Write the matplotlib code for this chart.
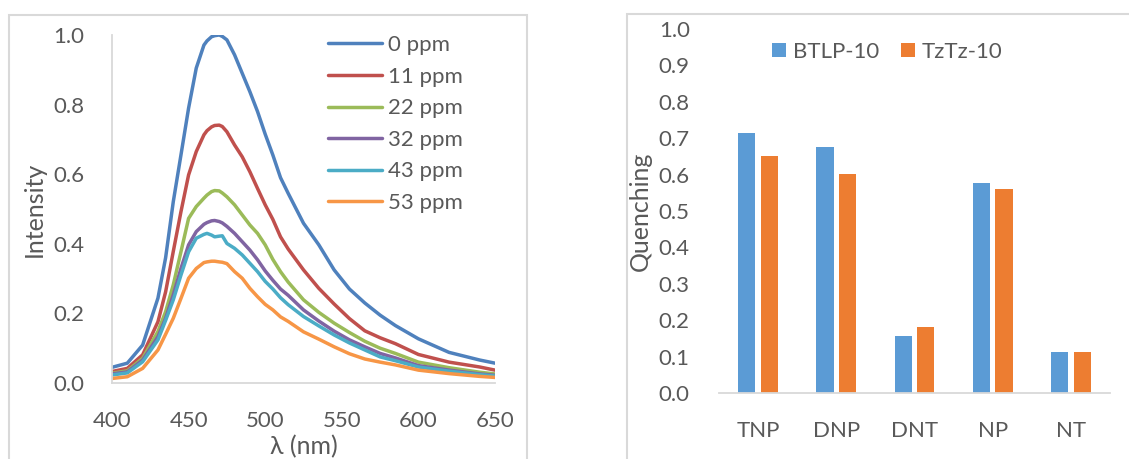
import numpy as np
import matplotlib
matplotlib.use("Agg")
import matplotlib.pyplot as plt
from matplotlib.patches import Rectangle

plt.rcParams['font.family'] = ['Lato', 'DejaVu Sans']

# emission spectra (left panel)
wavelength = [400, 410, 420, 430, 435, 440, 445, 450, 455, 460, 462, 465, 467, 470, 472, 475, 480,
              485, 490, 495, 500, 505, 510, 515, 525, 535, 545, 555, 565, 575, 585, 600, 620, 640, 650]
ppm_0 = [0.045, 0.057, 0.109, 0.244, 0.36, 0.521, 0.655, 0.79, 0.905, 0.971, 0.983, 0.995, 0.998, 1.0,
         0.996, 0.986, 0.943, 0.89, 0.837, 0.78, 0.715, 0.655, 0.59, 0.545, 0.459, 0.397, 0.325,
         0.27, 0.23, 0.195, 0.165, 0.127, 0.088, 0.066, 0.057]
ppm_11 = [0.033, 0.042, 0.081, 0.176, 0.262, 0.378, 0.492, 0.598, 0.665, 0.713, 0.725, 0.736, 0.74,
          0.741, 0.737, 0.722, 0.684, 0.65, 0.607, 0.559, 0.512, 0.47, 0.42, 0.385, 0.325, 0.272,
          0.227, 0.185, 0.15, 0.13, 0.113, 0.082, 0.06, 0.046, 0.037]
ppm_22 = [0.028, 0.035, 0.071, 0.148, 0.205, 0.282, 0.377, 0.473, 0.507, 0.531, 0.54, 0.55, 0.553,
          0.552, 0.546, 0.535, 0.512, 0.483, 0.454, 0.43, 0.397, 0.355, 0.32, 0.29, 0.239, 0.203,
          0.172, 0.145, 0.12, 0.1, 0.085, 0.06, 0.044, 0.031, 0.026]
ppm_32 = [0.026, 0.032, 0.066, 0.133, 0.186, 0.253, 0.329, 0.397, 0.435, 0.456, 0.461, 0.466, 0.467,
          0.464, 0.46, 0.45, 0.43, 0.406, 0.382, 0.354, 0.322, 0.295, 0.27, 0.252, 0.21, 0.178,
          0.149, 0.124, 0.104, 0.085, 0.072, 0.05, 0.037, 0.026, 0.022]
ppm_43 = [0.023, 0.029, 0.061, 0.124, 0.18, 0.239, 0.31, 0.377, 0.416, 0.427, 0.43, 0.425, 0.42,
          0.422, 0.423, 0.401, 0.387, 0.368, 0.344, 0.32, 0.292, 0.27, 0.245, 0.225, 0.191, 0.164,
          0.138, 0.115, 0.095, 0.075, 0.064, 0.046, 0.034, 0.024, 0.02]
ppm_53 = [0.013, 0.018, 0.042, 0.095, 0.14, 0.186, 0.243, 0.301, 0.329, 0.346, 0.348, 0.35, 0.35,
          0.348, 0.347, 0.343, 0.32, 0.301, 0.272, 0.248, 0.226, 0.21, 0.19, 0.177, 0.147, 0.126,
          0.104, 0.084, 0.069, 0.06, 0.052, 0.037, 0.027, 0.019, 0.016]
spectra = [ppm_0, ppm_11, ppm_22, ppm_32, ppm_43, ppm_53]
spectra_labels = ['0 ppm', '11 ppm', '22 ppm', '32 ppm', '43 ppm', '53 ppm']
spectra_colors = ['#4F81BD', '#C0504D', '#9BBB59', '#8064A2', '#4BACC6', '#F79646']

# quenching (right panel)
analytes = ['TNP', 'DNP', 'DNT', 'NP', 'NT']
btlp = [0.715, 0.675, 0.157, 0.576, 0.113]
tztz = [0.650, 0.601, 0.180, 0.560, 0.113]

txt = '#595959'
grid_gray = '#d9d9d9'

fig = plt.figure(figsize=(11.29, 4.59), dpi=100)

# panel frames
fig.patches.append(Rectangle((9/1129, -0.05), (527-9)/1129, (459-15)/459 + 0.05,
                             transform=fig.transFigure, fill=False, ec=grid_gray, lw=1.5))
fig.patches.append(Rectangle((627/1129, -0.05), 0.5, (459-14)/459 + 0.05,
                             transform=fig.transFigure, fill=False, ec=grid_gray, lw=1.5))

ax1 = fig.add_axes([112/1129, 1-383/459, 383/1129, 348/459])
for y, lab, c in zip(spectra, spectra_labels, spectra_colors):
    ax1.plot(wavelength, y, color=c, lw=2.5, label=lab, solid_capstyle='round',
             solid_joinstyle='round')
ax1.set_xlim(400, 650)
ax1.set_ylim(0, 1.0)
ax1.set_xticks([400, 450, 500, 550, 600, 650])
ax1.set_yticks(np.arange(0, 1.01, 0.2))
ax1.yaxis.set_major_formatter(matplotlib.ticker.FormatStrFormatter('%.1f'))
for s in ['top', 'right']:
    ax1.spines[s].set_visible(False)
for s in ['left', 'bottom']:
    ax1.spines[s].set_color(grid_gray)
    ax1.spines[s].set_linewidth(1.3)
ax1.tick_params(length=0, labelsize=16, labelcolor=txt)
ax1.tick_params(axis='y', pad=20)
ax1.tick_params(axis='x', pad=20)
ax1.set_ylabel('Intensity', fontsize=18, color=txt, labelpad=5)
ax1.set_xlabel('λ (nm)', fontsize=18, color=txt, labelpad=3)
leg = ax1.legend(loc='upper left', bbox_to_anchor=(0.54, 1.025), frameon=False, fontsize=16,
                 handlelength=2.45, handletextpad=0.25, labelspacing=0.52, borderaxespad=0)
for t in leg.get_texts():
    t.set_color(txt)

ax2 = fig.add_axes([719/1129, 1-393/459, 391/1129, 364/459])
x = np.arange(len(analytes))
ax2.bar(x - 0.145, btlp, 0.22, color='#5B9BD5', label='BTLP-10')
ax2.bar(x + 0.145, tztz, 0.22, color='#ED7D31', label='TzTz-10')
ax2.set_xlim(-0.5, 4.5)
ax2.set_ylim(0, 1.0)
ax2.set_xticks(x)
ax2.set_xticklabels(analytes)
ax2.set_yticks(np.arange(0, 1.01, 0.1))
ax2.yaxis.set_major_formatter(matplotlib.ticker.FormatStrFormatter('%.1f'))
for s in ['top', 'right', 'left']:
    ax2.spines[s].set_visible(False)
ax2.spines['bottom'].set_color(grid_gray)
ax2.spines['bottom'].set_linewidth(1.3)
ax2.tick_params(length=0, labelsize=16, labelcolor=txt)
ax2.tick_params(axis='y', pad=21)
ax2.tick_params(axis='x', pad=20)
ax2.set_ylabel('Quenching', fontsize=18, color=txt, labelpad=5)
leg2 = ax2.legend(loc='center', bbox_to_anchor=(0.43, 0.937), ncol=2, frameon=False, fontsize=16,
                  handlelength=0.62, handleheight=0.62, handletextpad=0.3, columnspacing=1.0,
                  borderaxespad=0)
for t in leg2.get_texts():
    t.set_color(txt)

fig.savefig('out.png', dpi=100)
